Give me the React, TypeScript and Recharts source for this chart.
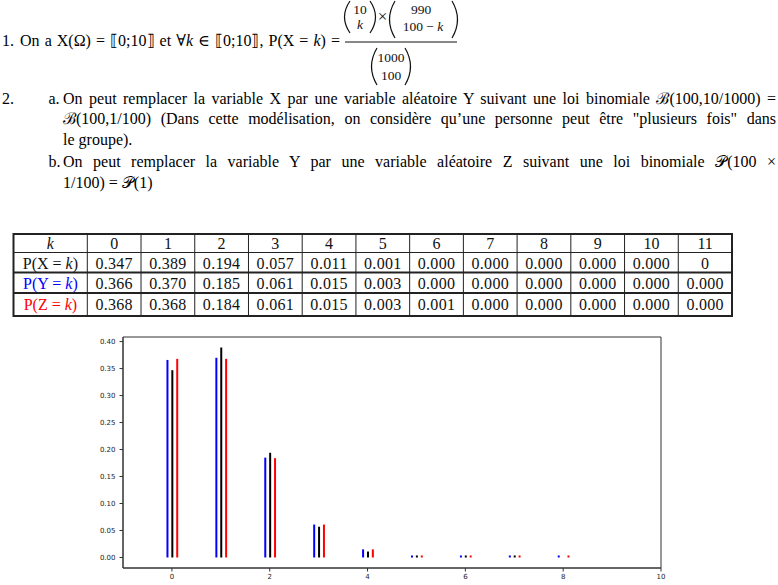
import { BarChart, Bar, XAxis, YAxis, ReferenceArea } from "recharts"

const ks = [0, 1, 2, 3, 4, 5, 6, 7, 8]
const probX = [0.347, 0.389, 0.194, 0.057, 0.011, 0.0014, 0.00012, 0.0000074, null]
const probY = [0.366, 0.37, 0.185, 0.061, 0.015, 0.003, 0.00046, 0.000063, 0.0000074]
const probZ = [0.368, 0.368, 0.184, 0.061, 0.015, 0.003, 0.00051, 0.000073, 0.0000091]
const xTicks = [0, 2, 4, 6, 8, 10]
const yTicks = [0, 0.05, 0.1, 0.15, 0.2, 0.25, 0.3, 0.35, 0.4]

// table values
const tableK = ["0", "1", "2", "3", "4", "5", "6", "7", "8", "9", "10", "11"]
const tableX = ["0.347", "0.389", "0.194", "0.057", "0.011", "0.001", "0.000", "0.000", "0.000", "0.000", "0.000", "0"]
const tableY = ["0.366", "0.370", "0.185", "0.061", "0.015", "0.003", "0.000", "0.000", "0.000", "0.000", "0.000", "0.000"]
const tableZ = ["0.368", "0.368", "0.184", "0.061", "0.015", "0.003", "0.001", "0.000", "0.000", "0.000", "0.000", "0.000"]

const BLUE = "#0000ff"
const RED = "#ff0000"
const serif = "'Liberation Serif', 'DejaVu Serif', serif"

const data = ks.map((k, i) => ({ k, x: probX[i], y: probY[i], z: probZ[i] }))

const minDot = (v: any) => (v ? 2 : 0)

// one line of running text, placed by its baseline
function Line({ x, base, w, justify, fs = 16, children }: any) {
  return (
    <div
      style={{
        position: "absolute",
        left: x,
        top: base - 0.8375 * fs,
        width: w,
        fontFamily: serif,
        fontSize: fs,
        lineHeight: fs + "px",
        color: "#000",
        whiteSpace: justify ? "normal" : "nowrap",
        textAlign: justify ? "justify" : "left",
        textAlignLast: justify ? "justify" : "auto",
        wordSpacing: justify ? -2 : 0,
      }}
    >
      {children}
    </div>
  )
}

function Paren({ x, y1, y2, right }: { x: number; y1: number; y2: number; right?: boolean }) {
  const d = right ? 11 : -11
  const mid = (y1 + y2) / 2
  return <path d={`M${x} ${y1} Q${x + d} ${mid} ${x} ${y2}`} fill="none" stroke="#111" strokeWidth={1.2} />
}

function Fraction() {
  return (
    <g fontFamily={serif} fontSize={13.5} fill="#111" textAnchor="middle">
      <Paren x={350} y1={1} y2={33} />
      <text x={360} y={13.5}>10</text>
      <text x={360} y={28.5} fontStyle="italic">k</text>
      <Paren x={370} y1={1} y2={33} right />
      <text x={382.5} y={22} fontSize={17}>×</text>
      <Paren x={395} y1={1} y2={38} />
      <text x={421} y={14}>990</text>
      <text x={423} y={31}>100 − <tspan fontStyle="italic">k</tspan></text>
      <Paren x={452} y1={1} y2={38} right />
      <line x1={345} x2={457} y1={42} y2={42} stroke="#111" strokeWidth={1} />
      <Paren x={377} y1={48} y2={85} />
      <text x={391} y={62}>1000</text>
      <text x={391} y={80}>100</text>
      <Paren x={405} y1={48} y2={85} right />
    </g>
  )
}

function Table() {
  const left = 13.5
  const c0 = 87.3
  const right = 732
  const colW = (right - c0) / 12
  const rows = [234, 252.5, 272.5, 293, 316]
  const base = [248.5, 268.5, 289, 309.5]
  const bodies = [tableX, tableY, tableZ]
  const labels = [
    { name: "X", color: "#111" },
    { name: "Y", color: BLUE },
    { name: "Z", color: RED },
  ]
  return (
    <g fontFamily={serif} fontSize={16} fill="#111">
      <rect x={left} y={rows[0]} width={right - left} height={rows[4] - rows[0]} fill="none" stroke="#222" strokeWidth={2} />
      <line x1={left} x2={right} y1={rows[1]} y2={rows[1]} stroke="#222" strokeWidth={1.2} />
      <line x1={left} x2={right} y1={rows[2]} y2={rows[2]} stroke="#222" strokeWidth={2} />
      <line x1={left} x2={right} y1={rows[3]} y2={rows[3]} stroke="#222" strokeWidth={2} />
      {tableK.map((_, i) => (
        <line key={i} x1={c0 + i * colW} x2={c0 + i * colW} y1={rows[0]} y2={rows[4]} stroke="#222" strokeWidth={1} />
      ))}
      <text x={(left + c0) / 2} y={base[0]} textAnchor="middle" fontStyle="italic">k</text>
      {tableK.map((k, i) => (
        <text key={k} x={c0 + (i + 0.5) * colW} y={base[0]} textAnchor="middle">{k}</text>
      ))}
      {labels.map((l, r) => (
        <text key={l.name} x={(left + c0) / 2} y={base[r + 1]} textAnchor="middle" fill={l.color}>
          P({l.name} = <tspan fontStyle="italic">k</tspan>)
        </text>
      ))}
      {bodies.map((row, r) =>
        row.map((v, i) => (
          <text key={r + "-" + i} x={c0 + (i + 0.5) * colW} y={base[r + 1]} textAnchor="middle" letterSpacing={0.3}>{v}</text>
        ))
      )}
    </g>
  )
}

function Texts() {
  return (
    <>
      <Line x={2} base={46.5}>1.</Line>
      <Line x={20} base={46.5} w={320} justify>
        On a X(Ω) = ⟦0;10⟧ et ∀<i>k</i> ∈ ⟦0;10⟧, P(X = <i>k</i>) =
      </Line>
      <Line x={2} base={104}>2.</Line>
      <Line x={48.5} base={104}>a.</Line>
      <Line x={63} base={104} w={713} justify>
        On peut remplacer la variable X par une variable aléatoire Y suivant une loi binomiale ℬ(100,10/1000) =
      </Line>
      <Line x={63} base={124.5} w={713} justify>
        ℬ(100,1/100) (Dans cette modélisation, on considère qu’une personne peut être "plusieurs fois" dans
      </Line>
      <Line x={63} base={145}>le groupe).</Line>
      <Line x={48.5} base={167}>b.</Line>
      <Line x={63} base={167} w={713} justify>
        On peut remplacer la variable Y par une variable aléatoire Z suivant une loi binomiale 𝒫(100 ×
      </Line>
      <Line x={63} base={188}>1/100) = 𝒫(1)</Line>
    </>
  )
}

const axisTick = { fontSize: 7, fill: "#222", fontFamily: "'DejaVu Sans', sans-serif" }

export default function App() {
  return (
    <div style={{ position: "absolute", left: 0, top: 0, width: 778, height: 585, background: "#fff" }}>
      <svg width={778} height={585} style={{ position: "absolute", left: 0, top: 0 }}>
        <Fraction />
        <Table />
      </svg>
      <Texts />
      <div style={{ position: "absolute", left: 80, top: 330 }}>
        <BarChart width={600} height={255} data={data} margin={{ top: 7, right: 19, bottom: 0, left: 0 }} barGap={2.885} barSize={2}>
          <XAxis
            dataKey="k"
            type="number"
            domain={[-1, 10]}
            ticks={xTicks}
            allowDataOverflow
            interval={0}
            height={17}
            tickSize={3.5}
            tickMargin={3}
            stroke="#333"
            tick={axisTick}
          />
          <YAxis
            type="number"
            domain={[-0.0195, 0.4085]}
            ticks={yTicks}
            allowDataOverflow
            interval={0}
            width={43}
            tickSize={3.5}
            tickMargin={4}
            stroke="#333"
            tick={axisTick}
            tickFormatter={(v: number) => v.toFixed(2)}
          />
          <ReferenceArea x1={-1} x2={10} y1={-0.0195} y2={0.4085} fill="none" stroke="#333" strokeWidth={1} />
          <Bar dataKey="y" fill={BLUE} minPointSize={minDot} isAnimationActive={false} />
          <Bar dataKey="x" fill="#000" minPointSize={minDot} isAnimationActive={false} />
          <Bar dataKey="z" fill={RED} minPointSize={minDot} isAnimationActive={false} />
        </BarChart>
      </div>
    </div>
  )
}
